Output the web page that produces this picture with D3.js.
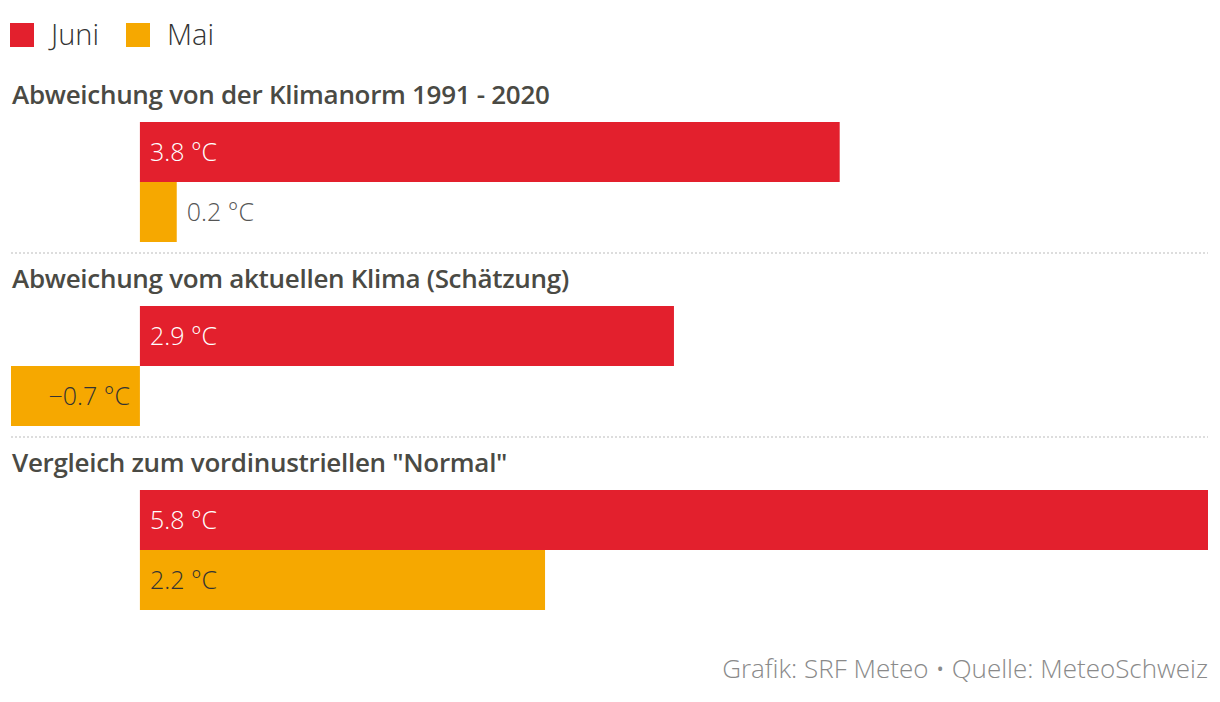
<!DOCTYPE html>
<html><head><meta charset="utf-8">
<script src="https://cdn.jsdelivr.net/npm/d3@7"></script>
<style>
body{margin:0;background:#fff;}
svg{display:block;font-family:"Open Sans",sans-serif;}
</style></head>
<body><svg id="c" width="1220" height="702"></svg>
<script>
const groups = ["Abweichung von der Klimanorm 1991 - 2020","Abweichung vom aktuellen Klima (Schätzung)","Vergleich zum vordinustriellen \"Normal\""];
const seriesNames = ["Juni","Mai"];
const juni = [3.8, 2.9, 5.8];
const mai = [0.2, -0.7, 2.2];
const colors = ["#e3202d","#f6a800"];
const footer = "Grafik: SRF Meteo • Quelle: MeteoSchweiz";

const svg = d3.select("#c");
const x = d3.scaleLinear().domain([-0.7, 5.8]).range([11, 1208]);
const fmt = v => (v < 0 ? "\u2212" + Math.abs(v).toFixed(1) : v.toFixed(1)) + " °C";

// legend
const leg = svg.append("g");
const legX = [10, 126];
seriesNames.forEach((n,i)=>{
  leg.append("rect").attr("x",legX[i]).attr("y",23).attr("width",24).attr("height",24).attr("fill",colors[i]);
  leg.append("text").attr("x",legX[i]+41).attr("y",45).attr("font-size",29).attr("font-weight",300).attr("fill","#333").text(n);
});

const groupTop = [80, 264, 448];
const barH = 60;
groups.forEach((g,gi)=>{
  const top = groupTop[gi];
  svg.append("text").attr("x",12).attr("y",top+24).attr("font-size",26).attr("font-weight",600).attr("fill","#4a4a44").attr("letter-spacing",-0.3).text(g);
  const vals = [juni[gi], mai[gi]];
  vals.forEach((v,si)=>{
    const y0 = top + 42 + si*barH;
    const x0 = Math.min(x(0), x(v)), w = Math.abs(x(v)-x(0));
    svg.append("rect").attr("x",x0).attr("y",y0).attr("width",w).attr("height",barH).attr("fill",colors[si]);
    const t = svg.append("text").attr("y",y0+barH/2+9).attr("font-size",25).attr("font-weight",300).text(fmt(v));
    const tw = t.node().getComputedTextLength();
    if (v >= 0) {
      if (tw + 20 <= w) t.attr("x", x(0)+10).attr("fill", si===0 ? "#fff" : "#333");
      else t.attr("x", x(v)+10).attr("fill","#555");
    } else {
      t.attr("x", x(0)-10).attr("text-anchor","end").attr("fill","#333");
    }
  });
  if (gi < groups.length-1) {
    svg.append("line").attr("x1",11).attr("x2",1208).attr("y1",top+173).attr("y2",top+173)
      .attr("stroke","#bbb").attr("stroke-width",1.2).attr("stroke-dasharray","2,2");
  }
});

svg.append("text").attr("x",1208).attr("y",678).attr("text-anchor","end").attr("font-size",26).attr("font-weight",300).attr("fill","#8a8a8a").text(footer);
</script></body></html>
